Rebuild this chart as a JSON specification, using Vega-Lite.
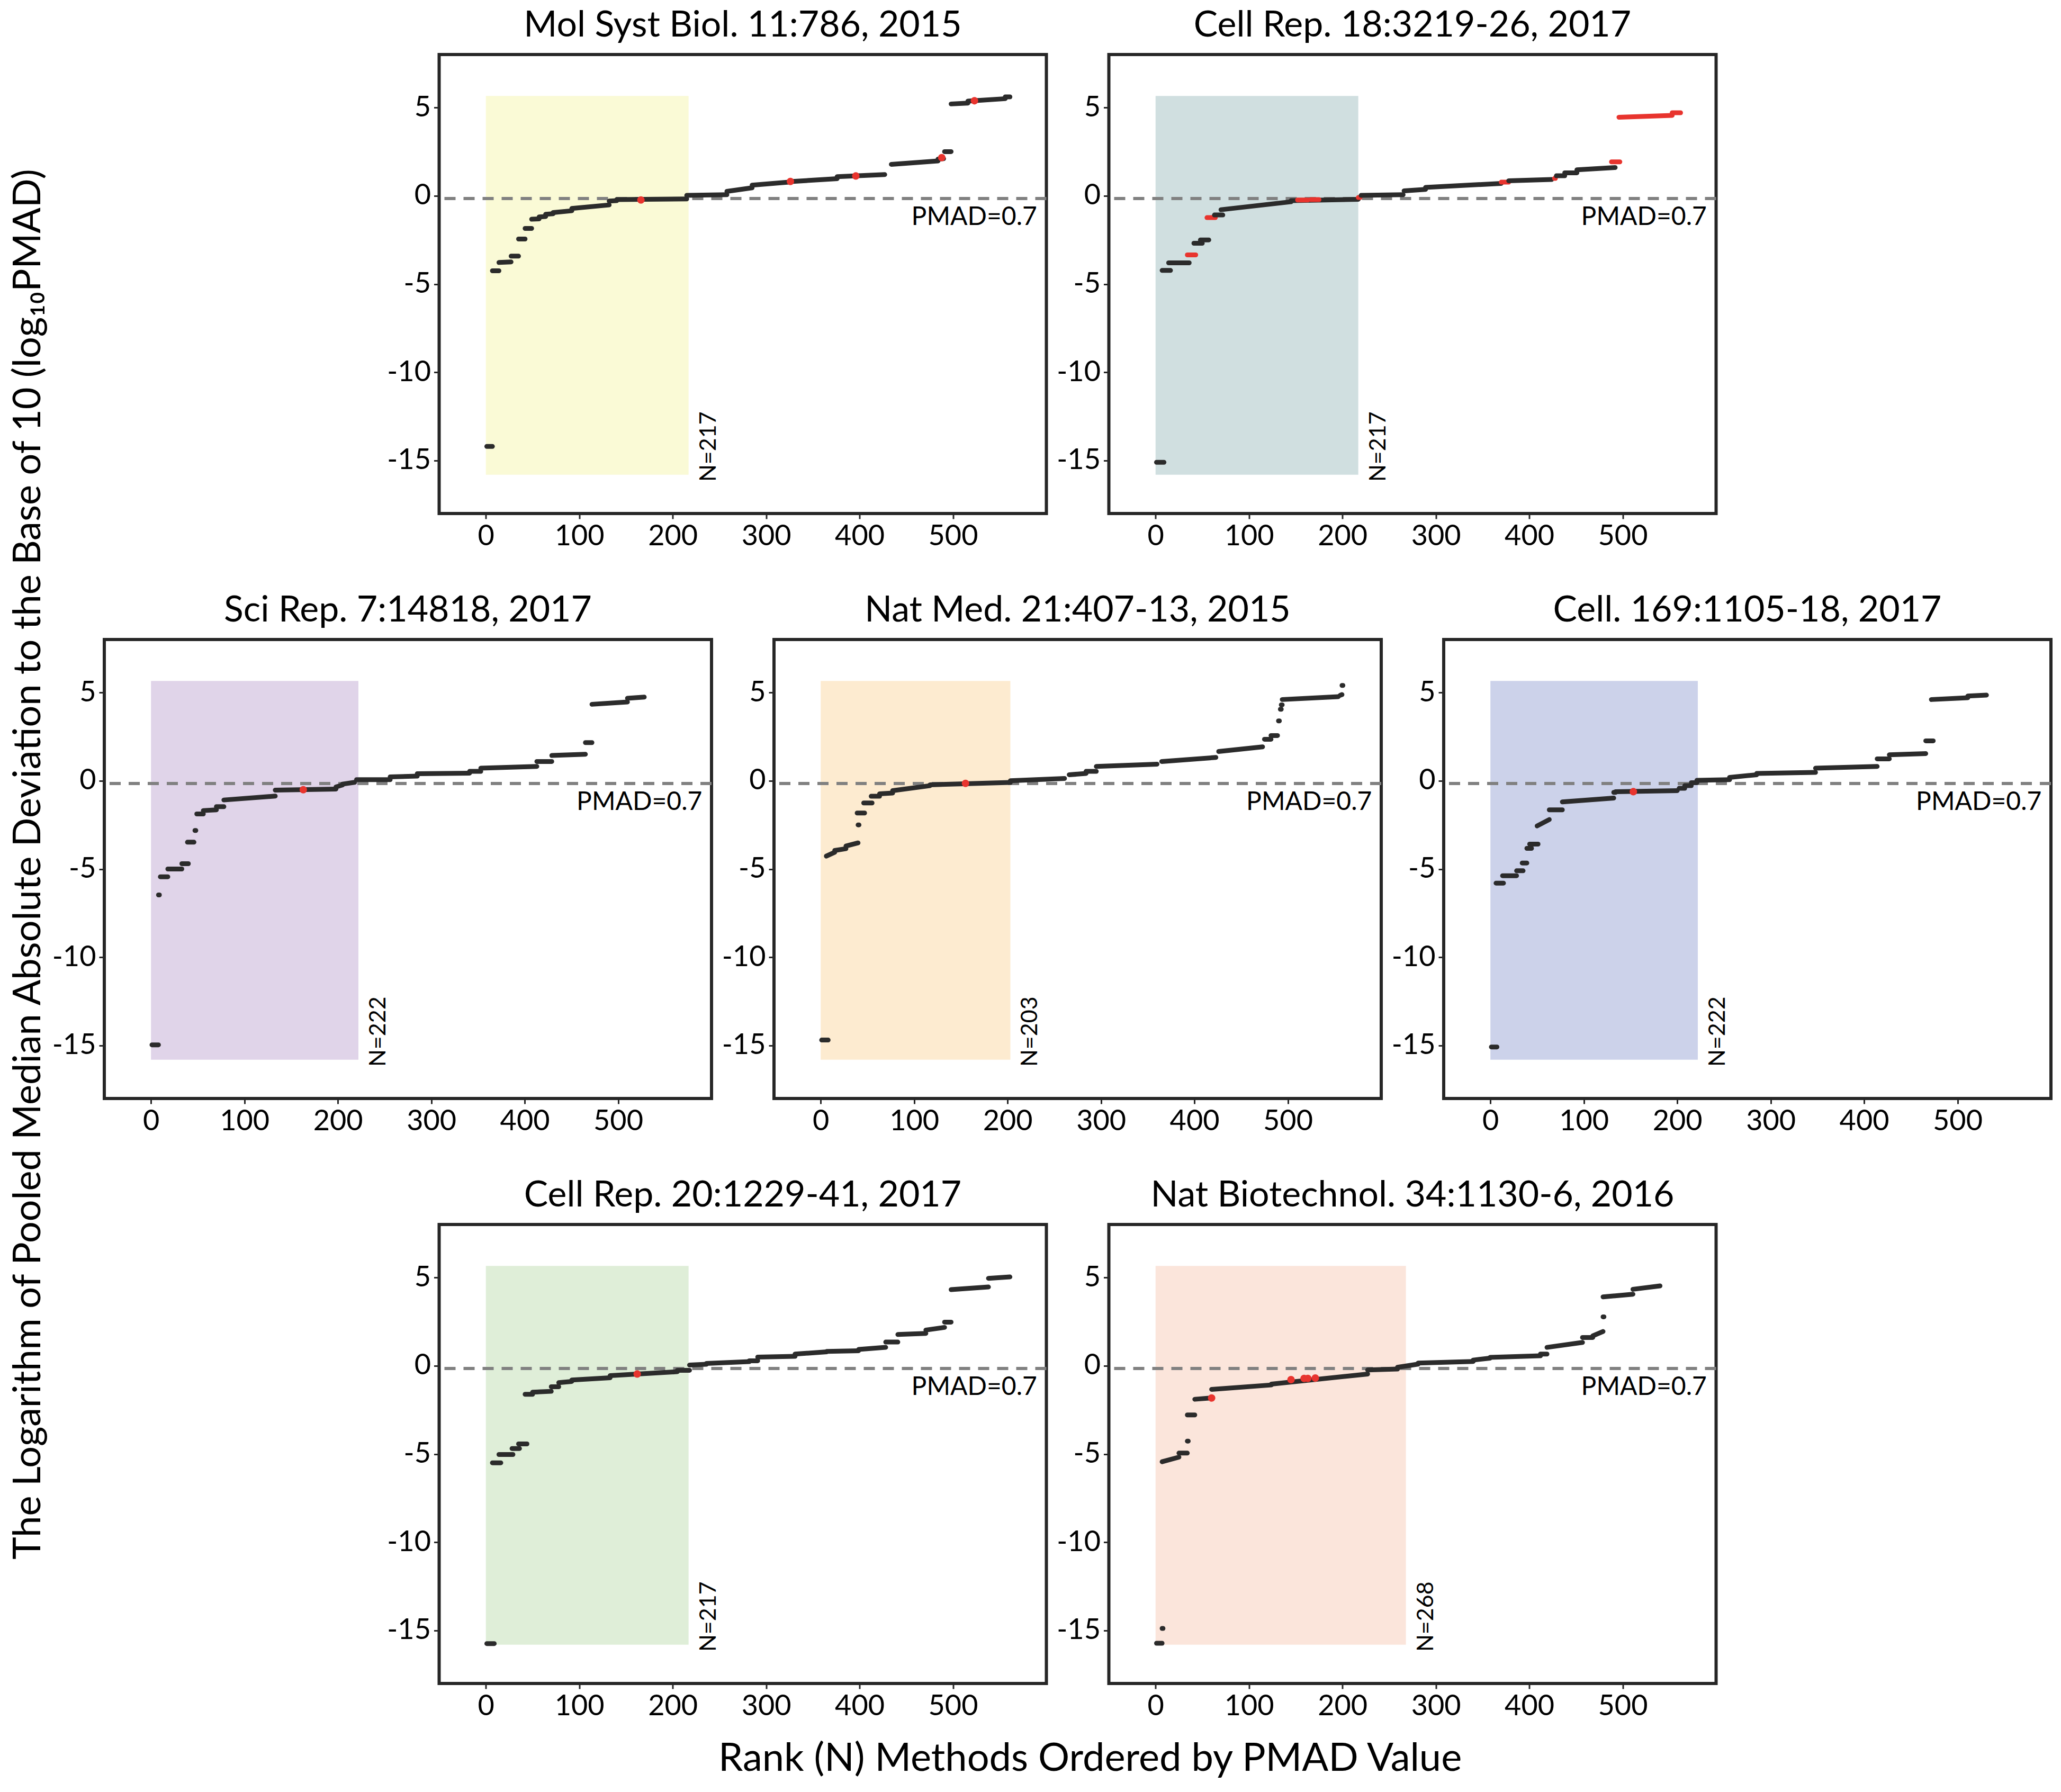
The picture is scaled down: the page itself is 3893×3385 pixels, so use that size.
{
  "$schema": "https://vega.github.io/schema/vega-lite/v6.json",
  "padding": {"left": 18, "top": 12, "right": 5, "bottom": 5},
  "config": {
    "font": "Lato",
    "view": {"stroke": "#262626", "strokeWidth": 6},
    "axis": {
      "grid": false,
      "domain": false,
      "tickSize": 10,
      "tickWidth": 3,
      "tickColor": "#262626",
      "labelFontSize": 54,
      "labelColor": "#000000",
      "labelPadding": 6,
      "title": null
    },
    "title": {"fontSize": 68, "fontWeight": "normal", "color": "#000000", "offset": 20, "anchor": "middle"},
    "text": {"font": "Lato", "fontSize": 48, "color": "#000000"}
  },
  "datasets": {
    "panels": [
      {"p": "A", "x": 0, "N": 217, "lo": -15.8, "hi": 5.65, "label": "N=217"},
      {"p": "B", "x": 0, "N": 217, "lo": -15.8, "hi": 5.65, "label": "N=217"},
      {"p": "C", "x": 0, "N": 222, "lo": -15.8, "hi": 5.65, "label": "N=222"},
      {"p": "D", "x": 0, "N": 203, "lo": -15.8, "hi": 5.65, "label": "N=203"},
      {"p": "E", "x": 0, "N": 222, "lo": -15.8, "hi": 5.65, "label": "N=222"},
      {"p": "F", "x": 0, "N": 217, "lo": -15.8, "hi": 5.65, "label": "N=217"},
      {"p": "G", "x": 0, "N": 268, "lo": -15.8, "hi": 5.65, "label": "N=268"}
    ],
    "seg": [
      {"p": "A", "x": 1, "x2": 7, "y": -14.2, "y2": -14.2, "h": "n"},
      {"p": "A", "x": 7, "x2": 14, "y": -4.25, "y2": -4.25, "h": "n"},
      {"p": "A", "x": 14, "x2": 27, "y": -3.78, "y2": -3.75, "h": "n"},
      {"p": "A", "x": 27, "x2": 35, "y": -3.42, "y2": -3.42, "h": "n"},
      {"p": "A", "x": 35, "x2": 42, "y": -2.45, "y2": -2.45, "h": "n"},
      {"p": "A", "x": 42, "x2": 49, "y": -1.85, "y2": -1.85, "h": "n"},
      {"p": "A", "x": 49, "x2": 57, "y": -1.33, "y2": -1.31, "h": "n"},
      {"p": "A", "x": 57, "x2": 64, "y": -1.2, "y2": -1.18, "h": "n"},
      {"p": "A", "x": 64, "x2": 72, "y": -1.05, "y2": -1.02, "h": "n"},
      {"p": "A", "x": 72, "x2": 92, "y": -0.95, "y2": -0.85, "h": "n"},
      {"p": "A", "x": 92, "x2": 132, "y": -0.72, "y2": -0.52, "h": "n"},
      {"p": "A", "x": 132, "x2": 140, "y": -0.3, "y2": -0.28, "h": "n"},
      {"p": "A", "x": 140, "x2": 215, "y": -0.22, "y2": -0.18, "h": "n"},
      {"p": "A", "x": 215, "x2": 258, "y": 0.02, "y2": 0.06, "h": "n"},
      {"p": "A", "x": 258, "x2": 285, "y": 0.25, "y2": 0.45, "h": "n"},
      {"p": "A", "x": 285, "x2": 326, "y": 0.6, "y2": 0.78, "h": "n"},
      {"p": "A", "x": 326, "x2": 376, "y": 0.8, "y2": 0.97, "h": "n"},
      {"p": "A", "x": 376, "x2": 427, "y": 1.08, "y2": 1.2, "h": "n"},
      {"p": "A", "x": 434, "x2": 484, "y": 1.78, "y2": 1.97, "h": "n"},
      {"p": "A", "x": 484, "x2": 490, "y": 2.08, "y2": 2.1, "h": "n"},
      {"p": "A", "x": 491, "x2": 498, "y": 2.5, "y2": 2.5, "h": "n"},
      {"p": "A", "x": 498, "x2": 516, "y": 5.2, "y2": 5.25, "h": "n"},
      {"p": "A", "x": 516, "x2": 556, "y": 5.36, "y2": 5.5, "h": "n"},
      {"p": "A", "x": 556, "x2": 561, "y": 5.6, "y2": 5.6, "h": "n"},

      {"p": "B", "x": 1, "x2": 9, "y": -15.1, "y2": -15.1, "h": "n"},
      {"p": "B", "x": 7, "x2": 16, "y": -4.23, "y2": -4.23, "h": "n"},
      {"p": "B", "x": 14, "x2": 36, "y": -3.8, "y2": -3.8, "h": "n"},
      {"p": "B", "x": 34, "x2": 43, "y": -3.35, "y2": -3.35, "h": "y"},
      {"p": "B", "x": 41, "x2": 50, "y": -2.69, "y2": -2.69, "h": "n"},
      {"p": "B", "x": 48, "x2": 57, "y": -2.5, "y2": -2.5, "h": "n"},
      {"p": "B", "x": 55, "x2": 64, "y": -1.24, "y2": -1.24, "h": "y"},
      {"p": "B", "x": 63, "x2": 72, "y": -1.09, "y2": -1.09, "h": "n"},
      {"p": "B", "x": 70, "x2": 145, "y": -0.79, "y2": -0.34, "h": "n"},
      {"p": "B", "x": 145, "x2": 217, "y": -0.28, "y2": -0.2, "h": "n"},
      {"p": "B", "x": 152, "x2": 163, "y": -0.24, "y2": -0.24, "h": "y"},
      {"p": "B", "x": 166, "x2": 175, "y": -0.22, "y2": -0.22, "h": "y"},
      {"p": "B", "x": 217, "x2": 219, "y": -0.1, "y2": -0.1, "h": "y"},
      {"p": "B", "x": 220, "x2": 265, "y": 0.02, "y2": 0.06, "h": "n"},
      {"p": "B", "x": 266, "x2": 289, "y": 0.28, "y2": 0.36, "h": "n"},
      {"p": "B", "x": 289, "x2": 370, "y": 0.47, "y2": 0.7, "h": "n"},
      {"p": "B", "x": 370, "x2": 378, "y": 0.77, "y2": 0.77, "h": "y"},
      {"p": "B", "x": 378, "x2": 424, "y": 0.85, "y2": 0.92, "h": "n"},
      {"p": "B", "x": 427, "x2": 428, "y": 0.98, "y2": 0.98, "h": "y"},
      {"p": "B", "x": 429, "x2": 438, "y": 1.13, "y2": 1.13, "h": "n"},
      {"p": "B", "x": 438, "x2": 451, "y": 1.3, "y2": 1.3, "h": "n"},
      {"p": "B", "x": 451, "x2": 492, "y": 1.47, "y2": 1.6, "h": "n"},
      {"p": "B", "x": 488, "x2": 497, "y": 1.92, "y2": 1.92, "h": "y"},
      {"p": "B", "x": 496, "x2": 553, "y": 4.45, "y2": 4.55, "h": "y"},
      {"p": "B", "x": 553, "x2": 562, "y": 4.7, "y2": 4.7, "h": "y"},

      {"p": "C", "x": 1, "x2": 8, "y": -14.96, "y2": -14.96, "h": "n"},
      {"p": "C", "x": 8, "x2": 9, "y": -6.47, "y2": -6.47, "h": "n"},
      {"p": "C", "x": 10, "x2": 18, "y": -5.44, "y2": -5.44, "h": "n"},
      {"p": "C", "x": 18, "x2": 33, "y": -5.0, "y2": -5.0, "h": "n"},
      {"p": "C", "x": 33, "x2": 40, "y": -4.7, "y2": -4.7, "h": "n"},
      {"p": "C", "x": 39, "x2": 46, "y": -3.48, "y2": -3.48, "h": "n"},
      {"p": "C", "x": 47, "x2": 48, "y": -2.82, "y2": -2.82, "h": "n"},
      {"p": "C", "x": 49, "x2": 56, "y": -1.88, "y2": -1.88, "h": "n"},
      {"p": "C", "x": 56, "x2": 70, "y": -1.69, "y2": -1.65, "h": "n"},
      {"p": "C", "x": 70, "x2": 78, "y": -1.47, "y2": -1.47, "h": "n"},
      {"p": "C", "x": 78, "x2": 133, "y": -1.09, "y2": -0.87, "h": "n"},
      {"p": "C", "x": 133, "x2": 198, "y": -0.53, "y2": -0.47, "h": "n"},
      {"p": "C", "x": 198, "x2": 205, "y": -0.35, "y2": -0.24, "h": "n"},
      {"p": "C", "x": 205, "x2": 218, "y": -0.19, "y2": -0.09, "h": "n"},
      {"p": "C", "x": 220, "x2": 256, "y": 0.06, "y2": 0.06, "h": "n"},
      {"p": "C", "x": 256, "x2": 285, "y": 0.22, "y2": 0.26, "h": "n"},
      {"p": "C", "x": 285, "x2": 341, "y": 0.4, "y2": 0.43, "h": "n"},
      {"p": "C", "x": 341, "x2": 353, "y": 0.53, "y2": 0.53, "h": "n"},
      {"p": "C", "x": 353, "x2": 413, "y": 0.71, "y2": 0.81, "h": "n"},
      {"p": "C", "x": 413, "x2": 429, "y": 1.09, "y2": 1.09, "h": "n"},
      {"p": "C", "x": 429, "x2": 465, "y": 1.43, "y2": 1.5, "h": "n"},
      {"p": "C", "x": 465, "x2": 472, "y": 2.16, "y2": 2.16, "h": "n"},
      {"p": "C", "x": 472, "x2": 510, "y": 4.33, "y2": 4.46, "h": "n"},
      {"p": "C", "x": 510, "x2": 528, "y": 4.67, "y2": 4.74, "h": "n"},

      {"p": "D", "x": 1, "x2": 8, "y": -14.69, "y2": -14.69, "h": "n"},
      {"p": "D", "x": 6, "x2": 15, "y": -4.27, "y2": -4.05, "h": "n"},
      {"p": "D", "x": 15, "x2": 27, "y": -3.95, "y2": -3.85, "h": "n"},
      {"p": "D", "x": 27, "x2": 40, "y": -3.7, "y2": -3.52, "h": "n"},
      {"p": "D", "x": 40, "x2": 41, "y": -2.5, "y2": -2.5, "h": "n"},
      {"p": "D", "x": 39, "x2": 47, "y": -1.83, "y2": -1.83, "h": "n"},
      {"p": "D", "x": 46, "x2": 55, "y": -1.26, "y2": -1.26, "h": "n"},
      {"p": "D", "x": 54, "x2": 63, "y": -0.88, "y2": -0.88, "h": "n"},
      {"p": "D", "x": 63, "x2": 77, "y": -0.74, "y2": -0.7, "h": "n"},
      {"p": "D", "x": 77, "x2": 117, "y": -0.56, "y2": -0.28, "h": "n"},
      {"p": "D", "x": 117, "x2": 203, "y": -0.23, "y2": -0.1, "h": "n"},
      {"p": "D", "x": 203, "x2": 261, "y": 0.0, "y2": 0.13, "h": "n"},
      {"p": "D", "x": 266, "x2": 284, "y": 0.34, "y2": 0.41, "h": "n"},
      {"p": "D", "x": 284, "x2": 295, "y": 0.53, "y2": 0.53, "h": "n"},
      {"p": "D", "x": 295, "x2": 360, "y": 0.81, "y2": 0.94, "h": "n"},
      {"p": "D", "x": 365, "x2": 423, "y": 1.09, "y2": 1.32, "h": "n"},
      {"p": "D", "x": 426, "x2": 473, "y": 1.66, "y2": 1.92, "h": "n"},
      {"p": "D", "x": 475, "x2": 482, "y": 2.35, "y2": 2.35, "h": "n"},
      {"p": "D", "x": 482, "x2": 489, "y": 2.56, "y2": 2.56, "h": "n"},
      {"p": "D", "x": 490, "x2": 491, "y": 3.39, "y2": 3.39, "h": "n"},
      {"p": "D", "x": 492, "x2": 493, "y": 4.05, "y2": 4.05, "h": "n"},
      {"p": "D", "x": 493, "x2": 494, "y": 4.3, "y2": 4.3, "h": "n"},
      {"p": "D", "x": 494, "x2": 554, "y": 4.6, "y2": 4.76, "h": "n"},
      {"p": "D", "x": 556, "x2": 558, "y": 4.84, "y2": 4.88, "h": "n"},
      {"p": "D", "x": 558, "x2": 559, "y": 5.4, "y2": 5.4, "h": "n"},

      {"p": "E", "x": 1, "x2": 7, "y": -15.08, "y2": -15.08, "h": "n"},
      {"p": "E", "x": 6, "x2": 14, "y": -5.8, "y2": -5.8, "h": "n"},
      {"p": "E", "x": 13, "x2": 28, "y": -5.38, "y2": -5.38, "h": "n"},
      {"p": "E", "x": 28, "x2": 35, "y": -5.1, "y2": -5.1, "h": "n"},
      {"p": "E", "x": 34, "x2": 39, "y": -4.66, "y2": -4.66, "h": "n"},
      {"p": "E", "x": 39, "x2": 44, "y": -3.83, "y2": -3.83, "h": "n"},
      {"p": "E", "x": 42, "x2": 51, "y": -3.59, "y2": -3.59, "h": "n"},
      {"p": "E", "x": 50, "x2": 63, "y": -2.56, "y2": -2.2, "h": "n"},
      {"p": "E", "x": 63, "x2": 77, "y": -1.65, "y2": -1.65, "h": "n"},
      {"p": "E", "x": 77, "x2": 132, "y": -1.2, "y2": -0.98, "h": "n"},
      {"p": "E", "x": 132, "x2": 134, "y": -0.66, "y2": -0.66, "h": "n"},
      {"p": "E", "x": 134, "x2": 200, "y": -0.62, "y2": -0.56, "h": "n"},
      {"p": "E", "x": 202, "x2": 208, "y": -0.43, "y2": -0.43, "h": "n"},
      {"p": "E", "x": 208, "x2": 215, "y": -0.28, "y2": -0.28, "h": "n"},
      {"p": "E", "x": 215, "x2": 221, "y": -0.11, "y2": -0.11, "h": "n"},
      {"p": "E", "x": 221, "x2": 256, "y": 0.02, "y2": 0.06, "h": "n"},
      {"p": "E", "x": 256, "x2": 285, "y": 0.19, "y2": 0.34, "h": "n"},
      {"p": "E", "x": 285, "x2": 348, "y": 0.41, "y2": 0.47, "h": "n"},
      {"p": "E", "x": 348, "x2": 414, "y": 0.71, "y2": 0.81, "h": "n"},
      {"p": "E", "x": 414, "x2": 427, "y": 1.24, "y2": 1.24, "h": "n"},
      {"p": "E", "x": 427, "x2": 466, "y": 1.47, "y2": 1.54, "h": "n"},
      {"p": "E", "x": 466, "x2": 474, "y": 2.26, "y2": 2.26, "h": "n"},
      {"p": "E", "x": 472, "x2": 511, "y": 4.6, "y2": 4.7, "h": "n"},
      {"p": "E", "x": 511, "x2": 531, "y": 4.8, "y2": 4.85, "h": "n"},

      {"p": "F", "x": 1, "x2": 9, "y": -15.74, "y2": -15.74, "h": "n"},
      {"p": "F", "x": 7, "x2": 16, "y": -5.5, "y2": -5.5, "h": "n"},
      {"p": "F", "x": 14, "x2": 29, "y": -5.03, "y2": -5.03, "h": "n"},
      {"p": "F", "x": 28, "x2": 36, "y": -4.69, "y2": -4.69, "h": "n"},
      {"p": "F", "x": 35, "x2": 44, "y": -4.43, "y2": -4.43, "h": "n"},
      {"p": "F", "x": 42, "x2": 50, "y": -1.62, "y2": -1.62, "h": "n"},
      {"p": "F", "x": 50, "x2": 70, "y": -1.5, "y2": -1.45, "h": "n"},
      {"p": "F", "x": 70, "x2": 78, "y": -1.19, "y2": -1.19, "h": "n"},
      {"p": "F", "x": 78, "x2": 92, "y": -0.96, "y2": -0.89, "h": "n"},
      {"p": "F", "x": 92, "x2": 133, "y": -0.81, "y2": -0.68, "h": "n"},
      {"p": "F", "x": 133, "x2": 205, "y": -0.56, "y2": -0.34, "h": "n"},
      {"p": "F", "x": 205, "x2": 218, "y": -0.26, "y2": -0.26, "h": "n"},
      {"p": "F", "x": 218, "x2": 236, "y": 0.04, "y2": 0.08, "h": "n"},
      {"p": "F", "x": 236, "x2": 282, "y": 0.13, "y2": 0.23, "h": "n"},
      {"p": "F", "x": 282, "x2": 291, "y": 0.28, "y2": 0.28, "h": "n"},
      {"p": "F", "x": 291, "x2": 331, "y": 0.49, "y2": 0.53, "h": "n"},
      {"p": "F", "x": 331, "x2": 365, "y": 0.66, "y2": 0.79, "h": "n"},
      {"p": "F", "x": 365, "x2": 399, "y": 0.81, "y2": 0.85, "h": "n"},
      {"p": "F", "x": 399, "x2": 428, "y": 0.92, "y2": 1.04, "h": "n"},
      {"p": "F", "x": 428, "x2": 441, "y": 1.34, "y2": 1.34, "h": "n"},
      {"p": "F", "x": 441, "x2": 471, "y": 1.77, "y2": 1.83, "h": "n"},
      {"p": "F", "x": 471, "x2": 491, "y": 2.02, "y2": 2.17, "h": "n"},
      {"p": "F", "x": 491, "x2": 498, "y": 2.47, "y2": 2.47, "h": "n"},
      {"p": "F", "x": 498, "x2": 538, "y": 4.31, "y2": 4.46, "h": "n"},
      {"p": "F", "x": 538, "x2": 561, "y": 4.95, "y2": 5.03, "h": "n"},

      {"p": "G", "x": 1, "x2": 7, "y": -15.72, "y2": -15.72, "h": "n"},
      {"p": "G", "x": 7, "x2": 8, "y": -14.88, "y2": -14.88, "h": "n"},
      {"p": "G", "x": 7, "x2": 25, "y": -5.44, "y2": -5.18, "h": "n"},
      {"p": "G", "x": 25, "x2": 34, "y": -4.95, "y2": -4.95, "h": "n"},
      {"p": "G", "x": 34, "x2": 35, "y": -4.27, "y2": -4.27, "h": "n"},
      {"p": "G", "x": 34, "x2": 42, "y": -2.79, "y2": -2.79, "h": "n"},
      {"p": "G", "x": 42, "x2": 59, "y": -1.9, "y2": -1.83, "h": "n"},
      {"p": "G", "x": 60, "x2": 124, "y": -1.34, "y2": -1.09, "h": "n"},
      {"p": "G", "x": 124, "x2": 227, "y": -1.04, "y2": -0.47, "h": "n"},
      {"p": "G", "x": 227, "x2": 259, "y": -0.24, "y2": -0.19, "h": "n"},
      {"p": "G", "x": 259, "x2": 281, "y": -0.09, "y2": 0.09, "h": "n"},
      {"p": "G", "x": 281, "x2": 340, "y": 0.15, "y2": 0.24, "h": "n"},
      {"p": "G", "x": 340, "x2": 358, "y": 0.32, "y2": 0.43, "h": "n"},
      {"p": "G", "x": 358, "x2": 412, "y": 0.47, "y2": 0.56, "h": "n"},
      {"p": "G", "x": 412, "x2": 419, "y": 0.66, "y2": 0.66, "h": "n"},
      {"p": "G", "x": 419, "x2": 457, "y": 1.04, "y2": 1.32, "h": "n"},
      {"p": "G", "x": 457, "x2": 468, "y": 1.6, "y2": 1.6, "h": "n"},
      {"p": "G", "x": 468, "x2": 479, "y": 1.69, "y2": 1.94, "h": "n"},
      {"p": "G", "x": 479, "x2": 480, "y": 2.77, "y2": 2.77, "h": "n"},
      {"p": "G", "x": 479, "x2": 511, "y": 3.9, "y2": 4.05, "h": "n"},
      {"p": "G", "x": 511, "x2": 540, "y": 4.33, "y2": 4.52, "h": "n"}
    ],
    "red": [
      {"p": "A", "x": 166, "y": -0.24},
      {"p": "A", "x": 326, "y": 0.81},
      {"p": "A", "x": 396, "y": 1.12},
      {"p": "A", "x": 488, "y": 2.16},
      {"p": "A", "x": 523, "y": 5.38},
      {"p": "C", "x": 163, "y": -0.51},
      {"p": "D", "x": 155, "y": -0.15},
      {"p": "E", "x": 153, "y": -0.62},
      {"p": "F", "x": 162, "y": -0.47},
      {"p": "G", "x": 60, "y": -1.83},
      {"p": "G", "x": 145, "y": -0.79},
      {"p": "G", "x": 159, "y": -0.72},
      {"p": "G", "x": 163, "y": -0.72},
      {"p": "G", "x": 171, "y": -0.7}
    ]
  },
  "title": {"text": "Rank (N) Methods Ordered by PMAD Value", "orient": "bottom", "fontSize": 74, "offset": 34, "dx": 110},
  "vconcat": [
    {
      "title": {"text": "The Logarithm of Pooled Median Absolute Deviation to the Base of 10 (log₁₀PMAD)", "orient": "left", "fontSize": 72, "offset": 4},
      "center": true,
      "spacing": 74,
      "vconcat": [
        {
          "hconcat": [
            {
              "title": "Mol Syst Biol. 11:786, 2015",
              "width": 1147, "height": 867,
              "data": {"name": "panels"},
              "layer": [
                {"transform": [{"filter": "datum.p == 'A'"}], "mark": {"type": "rect", "color": "#fafad6"},
                 "encoding": {"x": {"field": "x", "type": "quantitative", "scale": {"domain": [-28, 587]}, "axis": {"values": [0, 100, 200, 300, 400, 500], "title": null}}, "x2": {"field": "N"},
                              "y": {"field": "lo", "type": "quantitative", "scale": {"domain": [-17, 7.1]}, "axis": {"values": [-15, -10, -5, 0, 5], "labelExpr": "toString(datum.value)", "title": null}}, "y2": {"field": "hi"}}},
                {"transform": [{"filter": "datum.p == 'A'"}], "mark": {"type": "rule", "color": "#808080", "strokeWidth": 6, "strokeDash": [21, 15]},
                 "encoding": {"y": {"datum": -0.155, "type": "quantitative"}}},
                {"data": {"name": "seg"}, "transform": [{"filter": "datum.p == 'A'"}], "mark": {"type": "rule", "strokeWidth": 9, "strokeCap": "round"},
                 "encoding": {"x": {"field": "x", "type": "quantitative"}, "x2": {"field": "x2"}, "y": {"field": "y", "type": "quantitative"}, "y2": {"field": "y2"},
                              "color": {"field": "h", "type": "nominal", "scale": {"domain": ["n", "y"], "range": ["#2b2b2b", "#e8342e"]}, "legend": null}}},
                {"data": {"name": "red"}, "transform": [{"filter": "datum.p == 'A'"}], "mark": {"type": "circle", "color": "#e8342e", "size": 200, "opacity": 1},
                 "encoding": {"x": {"field": "x", "type": "quantitative"}, "y": {"field": "y", "type": "quantitative"}}},
                {"transform": [{"filter": "datum.p == 'A'"}], "mark": {"type": "text", "text": "PMAD=0.7", "align": "right", "baseline": "middle"},
                 "encoding": {"x": {"datum": 590, "type": "quantitative"}, "y": {"datum": -1.25, "type": "quantitative"}}},
                {"transform": [{"filter": "datum.p == 'A'"}], "mark": {"type": "text", "angle": 270, "align": "left", "baseline": "middle", "dy": 38, "fontSize": 43},
                 "encoding": {"x": {"field": "N", "type": "quantitative"}, "y": {"datum": -16.2, "type": "quantitative"}, "text": {"field": "label"}}}
              ]
            },
            {
              "title": "Cell Rep. 18:3219-26, 2017",
              "width": 1147, "height": 867,
              "data": {"name": "panels"},
              "layer": [
                {"transform": [{"filter": "datum.p == 'B'"}], "mark": {"type": "rect", "color": "#d0dfe0"},
                 "encoding": {"x": {"field": "x", "type": "quantitative", "scale": {"domain": [-28, 587]}, "axis": {"values": [0, 100, 200, 300, 400, 500], "title": null}}, "x2": {"field": "N"},
                              "y": {"field": "lo", "type": "quantitative", "scale": {"domain": [-17, 7.1]}, "axis": {"values": [-15, -10, -5, 0, 5], "labelExpr": "toString(datum.value)", "title": null}}, "y2": {"field": "hi"}}},
                {"transform": [{"filter": "datum.p == 'B'"}], "mark": {"type": "rule", "color": "#808080", "strokeWidth": 6, "strokeDash": [21, 15]},
                 "encoding": {"y": {"datum": -0.155, "type": "quantitative"}}},
                {"data": {"name": "seg"}, "transform": [{"filter": "datum.p == 'B'"}], "mark": {"type": "rule", "strokeWidth": 9, "strokeCap": "round"},
                 "encoding": {"x": {"field": "x", "type": "quantitative"}, "x2": {"field": "x2"}, "y": {"field": "y", "type": "quantitative"}, "y2": {"field": "y2"},
                              "color": {"field": "h", "type": "nominal", "scale": {"domain": ["n", "y"], "range": ["#2b2b2b", "#e8342e"]}, "legend": null}}},
                {"transform": [{"filter": "datum.p == 'B'"}], "mark": {"type": "text", "text": "PMAD=0.7", "align": "right", "baseline": "middle"},
                 "encoding": {"x": {"datum": 590, "type": "quantitative"}, "y": {"datum": -1.25, "type": "quantitative"}}},
                {"transform": [{"filter": "datum.p == 'B'"}], "mark": {"type": "text", "angle": 270, "align": "left", "baseline": "middle", "dy": 38, "fontSize": 43},
                 "encoding": {"x": {"field": "N", "type": "quantitative"}, "y": {"datum": -16.2, "type": "quantitative"}, "text": {"field": "label"}}}
              ]
            }
          ],
          "spacing": 10
        },
        {
          "hconcat": [
            {
              "title": "Sci Rep. 7:14818, 2017",
              "width": 1147, "height": 867,
              "data": {"name": "panels"},
              "layer": [
                {"transform": [{"filter": "datum.p == 'C'"}], "mark": {"type": "rect", "color": "#e0d4e9"},
                 "encoding": {"x": {"field": "x", "type": "quantitative", "scale": {"domain": [-28, 587]}, "axis": {"values": [0, 100, 200, 300, 400, 500], "title": null}}, "x2": {"field": "N"},
                              "y": {"field": "lo", "type": "quantitative", "scale": {"domain": [-17, 7.1]}, "axis": {"values": [-15, -10, -5, 0, 5], "labelExpr": "toString(datum.value)", "title": null}}, "y2": {"field": "hi"}}},
                {"transform": [{"filter": "datum.p == 'C'"}], "mark": {"type": "rule", "color": "#808080", "strokeWidth": 6, "strokeDash": [21, 15]},
                 "encoding": {"y": {"datum": -0.155, "type": "quantitative"}}},
                {"data": {"name": "seg"}, "transform": [{"filter": "datum.p == 'C'"}], "mark": {"type": "rule", "strokeWidth": 9, "strokeCap": "round", "color": "#2b2b2b"},
                 "encoding": {"x": {"field": "x", "type": "quantitative"}, "x2": {"field": "x2"}, "y": {"field": "y", "type": "quantitative"}, "y2": {"field": "y2"}}},
                {"data": {"name": "red"}, "transform": [{"filter": "datum.p == 'C'"}], "mark": {"type": "circle", "color": "#e8342e", "size": 200, "opacity": 1},
                 "encoding": {"x": {"field": "x", "type": "quantitative"}, "y": {"field": "y", "type": "quantitative"}}},
                {"transform": [{"filter": "datum.p == 'C'"}], "mark": {"type": "text", "text": "PMAD=0.7", "align": "right", "baseline": "middle"},
                 "encoding": {"x": {"datum": 590, "type": "quantitative"}, "y": {"datum": -1.25, "type": "quantitative"}}},
                {"transform": [{"filter": "datum.p == 'C'"}], "mark": {"type": "text", "angle": 270, "align": "left", "baseline": "middle", "dy": 38, "fontSize": 43},
                 "encoding": {"x": {"field": "N", "type": "quantitative"}, "y": {"datum": -16.2, "type": "quantitative"}, "text": {"field": "label"}}}
              ]
            },
            {
              "title": "Nat Med. 21:407-13, 2015",
              "width": 1147, "height": 867,
              "data": {"name": "panels"},
              "layer": [
                {"transform": [{"filter": "datum.p == 'D'"}], "mark": {"type": "rect", "color": "#fdebd0"},
                 "encoding": {"x": {"field": "x", "type": "quantitative", "scale": {"domain": [-28, 587]}, "axis": {"values": [0, 100, 200, 300, 400, 500], "title": null}}, "x2": {"field": "N"},
                              "y": {"field": "lo", "type": "quantitative", "scale": {"domain": [-17, 7.1]}, "axis": {"values": [-15, -10, -5, 0, 5], "labelExpr": "toString(datum.value)", "title": null}}, "y2": {"field": "hi"}}},
                {"transform": [{"filter": "datum.p == 'D'"}], "mark": {"type": "rule", "color": "#808080", "strokeWidth": 6, "strokeDash": [21, 15]},
                 "encoding": {"y": {"datum": -0.155, "type": "quantitative"}}},
                {"data": {"name": "seg"}, "transform": [{"filter": "datum.p == 'D'"}], "mark": {"type": "rule", "strokeWidth": 9, "strokeCap": "round", "color": "#2b2b2b"},
                 "encoding": {"x": {"field": "x", "type": "quantitative"}, "x2": {"field": "x2"}, "y": {"field": "y", "type": "quantitative"}, "y2": {"field": "y2"}}},
                {"data": {"name": "red"}, "transform": [{"filter": "datum.p == 'D'"}], "mark": {"type": "circle", "color": "#e8342e", "size": 200, "opacity": 1},
                 "encoding": {"x": {"field": "x", "type": "quantitative"}, "y": {"field": "y", "type": "quantitative"}}},
                {"transform": [{"filter": "datum.p == 'D'"}], "mark": {"type": "text", "text": "PMAD=0.7", "align": "right", "baseline": "middle"},
                 "encoding": {"x": {"datum": 590, "type": "quantitative"}, "y": {"datum": -1.25, "type": "quantitative"}}},
                {"transform": [{"filter": "datum.p == 'D'"}], "mark": {"type": "text", "angle": 270, "align": "left", "baseline": "middle", "dy": 38, "fontSize": 43},
                 "encoding": {"x": {"field": "N", "type": "quantitative"}, "y": {"datum": -16.2, "type": "quantitative"}, "text": {"field": "label"}}}
              ]
            },
            {
              "title": "Cell. 169:1105-18, 2017",
              "width": 1147, "height": 867,
              "data": {"name": "panels"},
              "layer": [
                {"transform": [{"filter": "datum.p == 'E'"}], "mark": {"type": "rect", "color": "#ccd2ea"},
                 "encoding": {"x": {"field": "x", "type": "quantitative", "scale": {"domain": [-28, 587]}, "axis": {"values": [0, 100, 200, 300, 400, 500], "title": null}}, "x2": {"field": "N"},
                              "y": {"field": "lo", "type": "quantitative", "scale": {"domain": [-17, 7.1]}, "axis": {"values": [-15, -10, -5, 0, 5], "labelExpr": "toString(datum.value)", "title": null}}, "y2": {"field": "hi"}}},
                {"transform": [{"filter": "datum.p == 'E'"}], "mark": {"type": "rule", "color": "#808080", "strokeWidth": 6, "strokeDash": [21, 15]},
                 "encoding": {"y": {"datum": -0.155, "type": "quantitative"}}},
                {"data": {"name": "seg"}, "transform": [{"filter": "datum.p == 'E'"}], "mark": {"type": "rule", "strokeWidth": 9, "strokeCap": "round", "color": "#2b2b2b"},
                 "encoding": {"x": {"field": "x", "type": "quantitative"}, "x2": {"field": "x2"}, "y": {"field": "y", "type": "quantitative"}, "y2": {"field": "y2"}}},
                {"data": {"name": "red"}, "transform": [{"filter": "datum.p == 'E'"}], "mark": {"type": "circle", "color": "#e8342e", "size": 200, "opacity": 1},
                 "encoding": {"x": {"field": "x", "type": "quantitative"}, "y": {"field": "y", "type": "quantitative"}}},
                {"transform": [{"filter": "datum.p == 'E'"}], "mark": {"type": "text", "text": "PMAD=0.7", "align": "right", "baseline": "middle"},
                 "encoding": {"x": {"datum": 590, "type": "quantitative"}, "y": {"datum": -1.25, "type": "quantitative"}}},
                {"transform": [{"filter": "datum.p == 'E'"}], "mark": {"type": "text", "angle": 270, "align": "left", "baseline": "middle", "dy": 38, "fontSize": 43},
                 "encoding": {"x": {"field": "N", "type": "quantitative"}, "y": {"datum": -16.2, "type": "quantitative"}, "text": {"field": "label"}}}
              ]
            }
          ],
          "spacing": 10
        },
        {
          "hconcat": [
            {
              "title": "Cell Rep. 20:1229-41, 2017",
              "width": 1147, "height": 867,
              "data": {"name": "panels"},
              "layer": [
                {"transform": [{"filter": "datum.p == 'F'"}], "mark": {"type": "rect", "color": "#dfeed8"},
                 "encoding": {"x": {"field": "x", "type": "quantitative", "scale": {"domain": [-28, 587]}, "axis": {"values": [0, 100, 200, 300, 400, 500], "title": null}}, "x2": {"field": "N"},
                              "y": {"field": "lo", "type": "quantitative", "scale": {"domain": [-17, 7.1]}, "axis": {"values": [-15, -10, -5, 0, 5], "labelExpr": "toString(datum.value)", "title": null}}, "y2": {"field": "hi"}}},
                {"transform": [{"filter": "datum.p == 'F'"}], "mark": {"type": "rule", "color": "#808080", "strokeWidth": 6, "strokeDash": [21, 15]},
                 "encoding": {"y": {"datum": -0.155, "type": "quantitative"}}},
                {"data": {"name": "seg"}, "transform": [{"filter": "datum.p == 'F'"}], "mark": {"type": "rule", "strokeWidth": 9, "strokeCap": "round", "color": "#2b2b2b"},
                 "encoding": {"x": {"field": "x", "type": "quantitative"}, "x2": {"field": "x2"}, "y": {"field": "y", "type": "quantitative"}, "y2": {"field": "y2"}}},
                {"data": {"name": "red"}, "transform": [{"filter": "datum.p == 'F'"}], "mark": {"type": "circle", "color": "#e8342e", "size": 200, "opacity": 1},
                 "encoding": {"x": {"field": "x", "type": "quantitative"}, "y": {"field": "y", "type": "quantitative"}}},
                {"transform": [{"filter": "datum.p == 'F'"}], "mark": {"type": "text", "text": "PMAD=0.7", "align": "right", "baseline": "middle"},
                 "encoding": {"x": {"datum": 590, "type": "quantitative"}, "y": {"datum": -1.25, "type": "quantitative"}}},
                {"transform": [{"filter": "datum.p == 'F'"}], "mark": {"type": "text", "angle": 270, "align": "left", "baseline": "middle", "dy": 38, "fontSize": 43},
                 "encoding": {"x": {"field": "N", "type": "quantitative"}, "y": {"datum": -16.2, "type": "quantitative"}, "text": {"field": "label"}}}
              ]
            },
            {
              "title": "Nat Biotechnol. 34:1130-6, 2016",
              "width": 1147, "height": 867,
              "data": {"name": "panels"},
              "layer": [
                {"transform": [{"filter": "datum.p == 'G'"}], "mark": {"type": "rect", "color": "#fbe5db"},
                 "encoding": {"x": {"field": "x", "type": "quantitative", "scale": {"domain": [-28, 587]}, "axis": {"values": [0, 100, 200, 300, 400, 500], "title": null}}, "x2": {"field": "N"},
                              "y": {"field": "lo", "type": "quantitative", "scale": {"domain": [-17, 7.1]}, "axis": {"values": [-15, -10, -5, 0, 5], "labelExpr": "toString(datum.value)", "title": null}}, "y2": {"field": "hi"}}},
                {"transform": [{"filter": "datum.p == 'G'"}], "mark": {"type": "rule", "color": "#808080", "strokeWidth": 6, "strokeDash": [21, 15]},
                 "encoding": {"y": {"datum": -0.155, "type": "quantitative"}}},
                {"data": {"name": "seg"}, "transform": [{"filter": "datum.p == 'G'"}], "mark": {"type": "rule", "strokeWidth": 9, "strokeCap": "round", "color": "#2b2b2b"},
                 "encoding": {"x": {"field": "x", "type": "quantitative"}, "x2": {"field": "x2"}, "y": {"field": "y", "type": "quantitative"}, "y2": {"field": "y2"}}},
                {"data": {"name": "red"}, "transform": [{"filter": "datum.p == 'G'"}], "mark": {"type": "circle", "color": "#e8342e", "size": 200, "opacity": 1},
                 "encoding": {"x": {"field": "x", "type": "quantitative"}, "y": {"field": "y", "type": "quantitative"}}},
                {"transform": [{"filter": "datum.p == 'G'"}], "mark": {"type": "text", "text": "PMAD=0.7", "align": "right", "baseline": "middle"},
                 "encoding": {"x": {"datum": 590, "type": "quantitative"}, "y": {"datum": -1.25, "type": "quantitative"}}},
                {"transform": [{"filter": "datum.p == 'G'"}], "mark": {"type": "text", "angle": 270, "align": "left", "baseline": "middle", "dy": 38, "fontSize": 43},
                 "encoding": {"x": {"field": "N", "type": "quantitative"}, "y": {"datum": -16.2, "type": "quantitative"}, "text": {"field": "label"}}}
              ]
            }
          ],
          "spacing": 10
        }
      ]
    }
  ]
}
